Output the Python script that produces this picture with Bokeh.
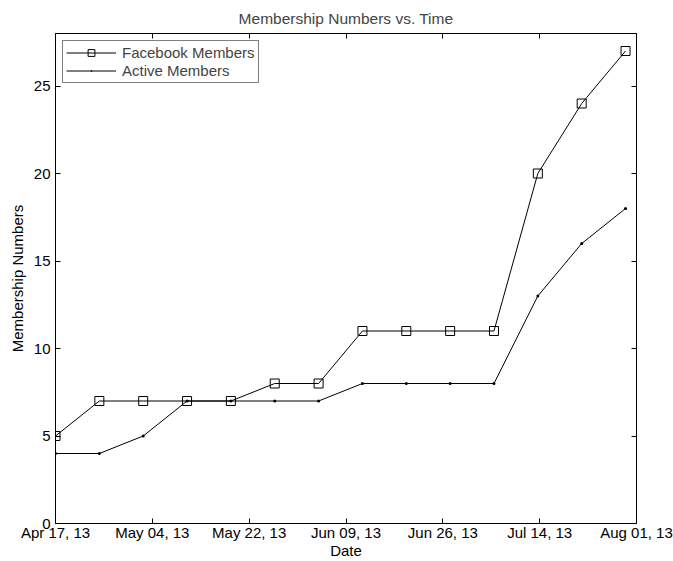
import pandas as pd
from bokeh.plotting import figure
from bokeh.models import (Range1d, FixedTicker, DatetimeAxis, LinearAxis,
                          DatetimeTickFormatter, Legend, CustomLabelingPolicy)
from bokeh.embed import file_html
from bokeh.resources import INLINE

# ---- data ----
dates = ["2013-04-17", "2013-04-25", "2013-05-03", "2013-05-11", "2013-05-19",
         "2013-05-27", "2013-06-04", "2013-06-12", "2013-06-20", "2013-06-28",
         "2013-07-06", "2013-07-14", "2013-07-22", "2013-07-30"]
facebook_members = [5, 7, 7, 7, 7, 8, 8, 11, 11, 11, 11, 20, 24, 27]
active_members = [4, 4, 5, 7, 7, 7, 7, 8, 8, 8, 8, 13, 16, 18]
x_start = "2013-04-17"
x_end = "2013-08-01"
n_xticks = 7
y_ticks = [0, 5, 10, 15, 20, 25]
y_max = 28

FONT = "Liberation Sans"
FS = "15px"

x = pd.to_datetime(dates)
t0 = pd.Timestamp(x_start)
t1 = pd.Timestamp(x_end)
ms0 = int(t0.value // 10**6)
ms1 = int(t1.value // 10**6)
step = (ms1 - ms0) // (n_xticks - 1)
xticks = [ms0 + i * step for i in range(n_xticks)]

p = figure(width=673, height=561, output_backend="svg", toolbar_location=None,
           x_axis_type="datetime",
           x_range=Range1d(t0, t1), y_range=Range1d(0, y_max),
           min_border_left=55, min_border_right=37, min_border_top=33,
           min_border_bottom=38)

p.xgrid.visible = False
p.ygrid.visible = False
p.outline_line_color = "black"
p.outline_line_width = 1
p.background_fill_color = "white"
p.border_fill_color = "white"

p.title.text = "Membership Numbers vs. Time"
p.title.align = "center"
p.title.text_font = FONT
p.title.text_font_size = "15.5px"
p.title.text_font_style = "normal"
p.title.standoff = 14

fmt_str = "%b %d, %y"
fmt = DatetimeTickFormatter(microseconds=fmt_str, milliseconds=fmt_str, seconds=fmt_str,
                            minsec=fmt_str, minutes=fmt_str, hourmin=fmt_str, hours=fmt_str,
                            days=fmt_str, months=fmt_str, years=fmt_str)

xa = p.xaxis[0]
xa.ticker = FixedTicker(ticks=xticks)
xa.formatter = fmt
xa.axis_label = "Date"
ya = p.yaxis[0]
ya.ticker = FixedTicker(ticks=y_ticks)
ya.axis_label = "Membership Numbers"

for ax in (xa, ya):
    ax.major_tick_in = 5
    ax.major_tick_out = 0
    ax.minor_tick_in = 0
    ax.minor_tick_out = 0
    ax.axis_line_color = "black"
    ax.major_tick_line_color = "black"
    ax.major_label_text_font = FONT
    ax.major_label_text_font_size = FS
    ax.major_label_text_color = "black"
    ax.axis_label_text_font = FONT
    ax.axis_label_text_font_size = FS
    ax.axis_label_text_font_style = "normal"
    ax.axis_label_text_color = "black"

xa.major_label_standoff = 0
xa.axis_label_standoff = -2
ya.major_label_standoff = 5
ya.axis_label_standoff = 5

# mirrored axes (ticks only) to close the box like the reference
top = DatetimeAxis(ticker=FixedTicker(ticks=xticks), formatter=fmt)
right = LinearAxis(ticker=FixedTicker(ticks=y_ticks))
for ax in (top, right):
    ax.major_tick_in = 5
    ax.major_tick_out = 0
    ax.minor_tick_in = 0
    ax.minor_tick_out = 0
    ax.axis_line_color = "black"
    ax.major_tick_line_color = "black"
    ax.major_label_text_font_size = "0px"
    ax.major_label_standoff = 0
    ax.major_label_policy = CustomLabelingPolicy(code="return []")
p.add_layout(top, "above")
p.add_layout(right, "right")

r1 = p.line(x, facebook_members, line_color="black", line_width=1)
r2 = p.scatter(x, facebook_members, marker="square", size=9, fill_color=None,
               line_color="black", line_width=1)
r3 = p.line(x, active_members, line_color="black", line_width=1)
r4 = p.scatter(x, active_members, marker="dot", size=12, line_color="black",
               fill_color="black")

legend = Legend(items=[("Facebook Members", [r1, r2]), ("Active Members", [r3, r4])],
                location="top_left")
legend.margin = 7
legend.padding = 3
legend.spacing = 1
legend.label_height = 17
legend.glyph_height = 17
legend.glyph_width = 50
legend.label_standoff = 6
legend.border_line_color = "black"
legend.border_line_width = 1
legend.label_text_font = FONT
legend.label_text_font_size = FS
legend.background_fill_alpha = 1
p.add_layout(legend, "center")

open("out.html", "w").write(file_html(p, INLINE))
